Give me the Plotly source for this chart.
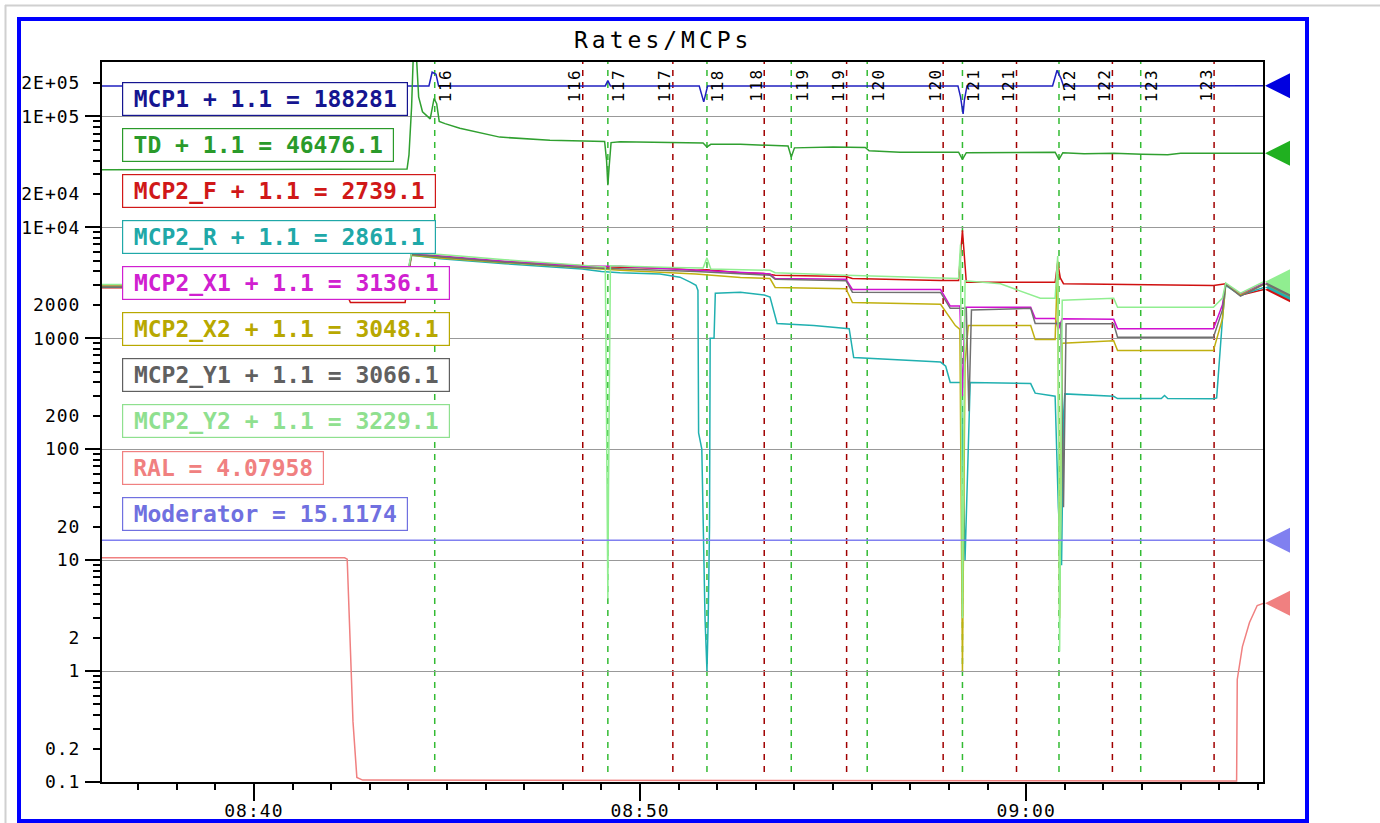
import plotly.graph_objects as go

DAY = "2010-01-01 "

# ---------------- axis data ----------------
X_START, X_END = "08:36:04", "09:06:08"
X_TICK_TIMES = ["08:40:00", "08:50:00", "09:00:00"]
X_TICK_TEXT = ["08:40", "08:50", "09:00"]

Y_RANGE_LOG = [-1, 5.49]
Y_LABEL_VALS = [0.1, 0.2, 1, 2, 10, 20, 100, 200, 1000, 2000, 1e4, 2e4, 1e5, 2e5]
Y_LABEL_TEXT = ["0.1", "0.2", "1", "2", "10", "20", "100", "200", "1000", "2000",
                "1E+04", "2E+04", "1E+05", "2E+05"]
Y_DECADES = [0.1, 1, 10, 100, 1e3, 1e4, 1e5]
Y_MINOR_MULTS = [3, 4, 5, 6, 7, 8, 9]

# ---------------- run markers ----------------
EVENT_TIMES = ["08:44:41", "08:48:31", "08:49:10", "08:50:51", "08:51:44", "08:53:13",
               "08:53:55", "08:55:21", "08:55:53", "08:57:51", "08:58:21", "08:59:45",
               "09:00:51", "09:02:14", "09:02:58", "09:04:52"]
EVENT_LABELS = ["116", "116", "117", "117", "118", "118", "119", "119",
                "120", "120", "121", "121", "122", "122", "123", "123"]
EVENT_KINDS = ["start", "end"] * 8

# ---------------- series ----------------
SERIES_NAMES = ["MCP1", "TD", "MCP2_F", "MCP2_R", "MCP2_X1", "MCP2_X2",
                "MCP2_Y1", "MCP2_Y2", "RAL", "Moderator"]
LEGEND_TEXT = ["MCP1 + 1.1 = 188281", "TD + 1.1 = 46476.1", "MCP2_F + 1.1 = 2739.1",
               "MCP2_R + 1.1 = 2861.1", "MCP2_X1 + 1.1 = 3136.1", "MCP2_X2 + 1.1 = 3048.1",
               "MCP2_Y1 + 1.1 = 3066.1", "MCP2_Y2 + 1.1 = 3229.1", "RAL = 4.07958",
               "Moderator = 15.1174"]
LINE_COLORS = ["#2020c0", "#30a030", "#d01010", "#20b0b0", "#d010d0", "#c0b010",
               "#707070", "#90ee90", "#f08080", "#8080f0"]
TEXT_COLORS = ["#151590", "#2a9a2a", "#d01818", "#20a8a8", "#d020d0", "#b8a800",
               "#606060", "#8fe08f", "#f08080", "#7070e0"]
MARKER_COLORS = ["#0000e0", "#20b020", "#d01010", "#20b0b0", "#d010d0", "#c0b010",
                 "#707070", "#90ee90", "#f08080", "#8080f0"]

MCP1 = [("08:36:04", 188000), ("08:44:32", 188000), ("08:44:37", 250000), ("08:44:43", 240000),
        ("08:44:47", 188000), ("08:49:06", 188000), ("08:49:10", 210000), ("08:49:14", 188000),
        ("08:51:32", 188000), ("08:51:39", 135000), ("08:51:45", 188000), ("08:58:14", 188000),
        ("08:58:18", 150000), ("08:58:22", 105000), ("08:58:24", 140000), ("08:58:28", 188000),
        ("09:00:41", 188000), ("09:00:48", 260000), ("09:00:54", 220000), ("09:00:58", 188000),
        ("09:06:09", 188281)]

TD = [("08:36:04", 33000), ("08:43:58", 33500), ("08:44:01", 45000), ("08:44:05", 120000),
      ("08:44:08", 400000), ("08:44:12", 400000), ("08:44:16", 150000), ("08:44:22", 110000),
      ("08:44:34", 95000), ("08:44:40", 145000), ("08:44:44", 130000), ("08:44:48", 90000),
      ("08:44:57", 86000), ("08:45:20", 78000), ("08:46:22", 65000), ("08:47:40", 61000),
      ("08:48:32", 60000), ("08:49:05", 59500), ("08:49:08", 40000), ("08:49:10", 24000),
      ("08:49:12", 35000), ("08:49:15", 58000), ("08:49:29", 59000), ("08:50:31", 58000),
      ("08:51:38", 57500), ("08:51:44", 53000), ("08:51:50", 56000), ("08:52:36", 56000),
      ("08:53:13", 55000), ("08:53:50", 54000), ("08:53:55", 43000), ("08:54:00", 52000),
      ("08:55:00", 53000), ("08:55:50", 52500), ("08:55:56", 49000), ("08:56:44", 47500),
      ("08:58:15", 47500), ("08:58:21", 41000), ("08:58:27", 47000), ("09:00:45", 47500),
      ("09:00:51", 41000), ("09:00:57", 47000), ("09:01:30", 46000), ("09:02:16", 46500),
      ("09:03:00", 45500), ("09:03:40", 45000), ("09:04:00", 46500), ("09:06:09", 46476.1)]

MCP2_F = [("08:36:04", 2850), ("08:42:20", 2850), ("08:42:30", 2100), ("08:43:55", 2100),
          ("08:44:05", 5800), ("08:44:50", 5400), ("08:46:30", 4900), ("08:48:30", 4500),
          ("08:49:00", 4400), ("08:50:50", 4250), ("08:51:27", 4100), ("08:51:44", 4150),
          ("08:52:36", 3900), ("08:53:13", 3840), ("08:53:30", 3700), ("08:55:20", 3600),
          ("08:55:30", 3450), ("08:57:47", 3320), ("08:58:15", 3320), ("08:58:21", 9400),
          ("08:58:27", 3200), ("09:00:45", 3190), ("09:00:49", 4800), ("09:00:53", 3500),
          ("09:00:58", 3100), ("09:04:51", 2990), ("09:05:05", 3050), ("09:05:10", 3100),
          ("09:05:33", 2450), ("09:06:09", 2739.1)]

MCP2_R = [("08:36:04", 2900), ("08:43:55", 2900), ("08:44:05", 5600), ("08:44:50", 5200),
          ("08:46:30", 4700), ("08:48:30", 4200), ("08:49:00", 4000), ("08:49:29", 3900),
          ("08:50:31", 3800), ("08:51:02", 3550), ("08:51:18", 3200), ("08:51:27", 3000),
          ("08:51:30", 2700), ("08:51:31", 140), ("08:51:36", 100), ("08:51:38", 20),
          ("08:51:41", 3), ("08:51:44", 1.0), ("08:51:46", 3), ("08:51:48", 20),
          ("08:51:49", 1000), ("08:51:55", 1000), ("08:51:57", 2550), ("08:52:36", 2600),
          ("08:53:13", 2450), ("08:53:22", 2350), ("08:53:33", 1360), ("08:54:30", 1300),
          ("08:55:25", 1220), ("08:55:32", 670), ("08:57:47", 610), ("08:57:55", 560),
          ("08:58:02", 400), ("08:58:19", 400), ("08:58:25", 10), ("08:58:30", 100),
          ("08:58:33", 400), ("09:00:07", 390), ("09:00:14", 320), ("09:00:45", 300),
          ("09:00:50", 30), ("09:00:55", 9), ("09:00:58", 200), ("09:01:00", 315),
          ("09:02:16", 300), ("09:02:22", 286), ("09:03:30", 286), ("09:03:35", 305),
          ("09:03:40", 286), ("09:04:51", 285), ("09:04:56", 290), ("09:05:05", 1500),
          ("09:05:10", 3000), ("09:05:33", 2450), ("09:06:09", 2861.1)]

MCP2_X1 = [("08:36:04", 3000), ("08:43:55", 3000), ("08:44:05", 5800), ("08:44:50", 5500),
           ("08:46:30", 4950), ("08:48:30", 4450), ("08:49:29", 4450), ("08:51:27", 4100),
           ("08:52:36", 3950), ("08:53:22", 3800), ("08:53:30", 3460), ("08:55:20", 3400),
           ("08:55:30", 2750), ("08:57:47", 2750), ("08:58:02", 1950), ("08:58:17", 1950),
           ("08:58:21", 300), ("08:58:25", 1900), ("09:00:07", 1900), ("09:00:14", 1510),
           ("09:00:45", 1510), ("09:00:50", 1200), ("09:00:56", 1500), ("09:02:16", 1480),
           ("09:02:22", 1220), ("09:04:51", 1220), ("09:05:05", 2000), ("09:05:10", 3100),
           ("09:05:33", 2500), ("09:06:09", 3136.1)]

MCP2_X2 = [("08:36:04", 2950), ("08:43:55", 2950), ("08:44:05", 5600), ("08:44:50", 5300),
           ("08:46:30", 4800), ("08:48:30", 4300), ("08:49:29", 4100), ("08:51:27", 3800),
           ("08:52:36", 3530), ("08:53:22", 3450), ("08:53:30", 2870), ("08:55:20", 2800),
           ("08:55:30", 2100), ("08:57:47", 2020), ("08:58:10", 1300), ("08:58:17", 1200),
           ("08:58:21", 1.0), ("08:58:25", 600), ("08:58:30", 1300), ("09:00:07", 1300),
           ("09:00:14", 975), ("09:00:45", 975), ("09:00:49", 5000), ("09:00:52", 3),
           ("09:00:56", 900), ("09:02:16", 950), ("09:02:22", 776), ("09:04:51", 776),
           ("09:05:05", 1500), ("09:05:10", 3050), ("09:05:33", 2450), ("09:06:09", 3048.1)]

MCP2_Y1 = [("08:36:04", 2900), ("08:43:55", 2900), ("08:44:05", 5700), ("08:44:50", 5400),
           ("08:46:30", 4850), ("08:48:30", 4350), ("08:51:27", 4000), ("08:53:22", 3700),
           ("08:53:30", 3400), ("08:55:20", 3300), ("08:55:30", 2600), ("08:57:47", 2590),
           ("08:58:02", 1860), ("08:58:27", 1860), ("08:58:31", 220), ("08:58:35", 1800),
           ("09:00:07", 1860), ("09:00:14", 1360), ("09:00:54", 1360), ("09:00:58", 30),
           ("09:01:02", 1350), ("09:02:16", 1350), ("09:02:22", 1020), ("09:04:51", 1020),
           ("09:05:05", 1800), ("09:05:10", 3050), ("09:05:33", 2400), ("09:06:09", 3066.1)]

MCP2_Y2 = [("08:36:04", 3050), ("08:43:55", 3050), ("08:44:05", 5900), ("08:44:50", 5700),
           ("08:46:30", 5100), ("08:48:30", 4500), ("08:49:06", 4400), ("08:49:07", 1000),
           ("08:49:09", 40), ("08:49:10", 4.5), ("08:49:11", 40), ("08:49:13", 1000),
           ("08:49:14", 4500), ("08:50:50", 4350), ("08:51:38", 4300), ("08:51:44", 5300),
           ("08:51:50", 4200), ("08:53:22", 4100), ("08:53:30", 3900), ("08:55:20", 3700),
           ("08:57:47", 3460), ("08:58:15", 3460), ("08:58:18", 7000), ("08:58:21", 3),
           ("08:58:25", 3300), ("08:59:20", 3100), ("09:00:22", 2290), ("09:00:45", 2290),
           ("09:00:49", 5500), ("09:00:52", 1.5), ("09:00:56", 2200), ("09:02:16", 2290),
           ("09:02:22", 1900), ("09:04:51", 1900), ("09:05:05", 2300), ("09:05:10", 3150),
           ("09:05:33", 2550), ("09:06:09", 3229.1)]

RAL = [("08:36:04", 10.5), ("08:42:21", 10.5), ("08:42:25", 10.2), ("08:42:27", 4.5),
       ("08:42:30", 1.5), ("08:42:34", 0.35), ("08:42:40", 0.11), ("08:42:49", 0.104),
       ("09:05:27", 0.102), ("09:05:28", 0.84), ("09:05:36", 1.66), ("09:05:47", 2.74),
       ("09:05:59", 3.9), ("09:06:09", 4.07958)]

MODERATOR = [("08:36:04", 15.1174), ("09:06:09", 15.1174)]

SERIES_POINTS = [MCP1, TD, MCP2_F, MCP2_R, MCP2_X1, MCP2_X2, MCP2_Y1, MCP2_Y2, RAL, MODERATOR]

# ---------------- layout constants ----------------
W, H = 1380, 823
PLOT_L, PLOT_R, PLOT_T, PLOT_B = 102, 1263, 62, 782
MONO = "DejaVu Sans Mono"
TRIANGLE_PATH = "M 2,0 L 27,12.5 L 27,-12.5 Z"


def px(x):
    return (x - PLOT_L) / (PLOT_R - PLOT_L)


def py(y):
    return (PLOT_B - y) / (PLOT_B - PLOT_T)


def spaced(text, ls):
    return f'<span style="letter-spacing:{ls}px">{text}</span>'


fig = go.Figure()

for name, pts, col in zip(SERIES_NAMES, SERIES_POINTS, LINE_COLORS):
    fig.add_trace(go.Scatter(
        x=[DAY + t for t, _ in pts], y=[v for _, v in pts], mode="lines",
        line=dict(color=col, width=1.5), hoverinfo="skip", showlegend=False,
        yaxis="y2" if name == "Moderator" else "y"))

# last-value triangles just outside the right edge
for name, pts, col in zip(SERIES_NAMES, SERIES_POINTS, MARKER_COLORS):
    fig.add_shape(type="path", xref="paper", xsizemode="pixel", xanchor=1,
                  yref="y", ysizemode="pixel", yanchor=pts[-1][1],
                  path=TRIANGLE_PATH, fillcolor=col, line=dict(width=0), layer="above")

# dashed run lines + rotated labels
for t, lab, kind in zip(EVENT_TIMES, EVENT_LABELS, EVENT_KINDS):
    col = "#33bb33" if kind == "start" else "#a00000"
    fig.add_shape(type="line", xref="x", yref="paper", x0=DAY + t, x1=DAY + t,
                  y0=py(772), y1=1, layer="below",
                  line=dict(color=col, width=1.5, dash="6px,6px"))
    fig.add_annotation(
        x=DAY + t, xref="x", y=1, yref="paper", yanchor="top", yshift=-5,
        xanchor="center", xshift=11 if kind == "start" else -8,
        text=spaced(lab, 1.5), textangle=-90, showarrow=False,
        font=dict(family=MONO, size=16, color="black"))

# legend boxes
for i, (txt, col) in enumerate(zip(LEGEND_TEXT, TEXT_COLORS)):
    top = 81.7 + 46.1 * i
    fig.add_annotation(
        xref="paper", yref="paper", x=px(121.7), y=py(top), xanchor="left", yanchor="top",
        text=f"<b>{txt}</b>", showarrow=False,
        font=dict(family=MONO, size=23, color=col),
        bordercolor=col, borderwidth=1.2, borderpad=0, bgcolor="white",
        width=len(txt) * 14 + 18, height=32, align="center", valign="middle")

# title
fig.add_annotation(xref="paper", yref="paper", x=px(662.5), y=py(40), xanchor="center",
                   yanchor="middle", text=spaced("Rates/MCPs", 4), showarrow=False,
                   font=dict(family=MONO, size=23, color="black"))

# frame: blue border and grey page edges
fig.add_shape(type="rect", xref="paper", yref="paper", x0=px(19), x1=px(1307),
              y0=py(821), y1=py(19), line=dict(color="#0000ff", width=4), layer="above")
fig.add_shape(type="line", xref="paper", yref="paper", x0=px(5), x1=px(1380),
              y0=py(5.5), y1=py(5.5), line=dict(color="#d0d0d0", width=2))
fig.add_shape(type="line", xref="paper", yref="paper", x0=px(5.5), x1=px(5.5),
              y0=py(823), y1=py(5), line=dict(color="#d0d0d0", width=2))

y_minor = [m * d for d in Y_DECADES[:-1] for m in Y_MINOR_MULTS]
y_tickvals = Y_LABEL_VALS + y_minor
y_ticktext = [spaced(t, 1) for t in Y_LABEL_TEXT] + [""] * len(y_minor)

fig.update_layout(
    template="none", width=W, height=H,
    margin=dict(l=PLOT_L, r=W - PLOT_R, t=PLOT_T, b=H - PLOT_B, pad=0),
    paper_bgcolor="white", plot_bgcolor="white", showlegend=False, hovermode=False,
    xaxis=dict(
        type="date", range=[DAY + X_START, DAY + X_END],
        tickmode="array", tickvals=[DAY + t for t in X_TICK_TIMES],
        ticktext=[spaced(t, 1) for t in X_TICK_TEXT],
        ticks="outside", ticklen=17, tickwidth=2, tickcolor="black",
        tickfont=dict(family=MONO, size=18, color="black"), ticklabelstandoff=-6,
        minor=dict(dtick=60000, tick0=DAY + "08:00:00", ticks="outside", ticklen=6,
                   tickwidth=1.5, tickcolor="black", showgrid=False),
        showgrid=False, zeroline=False, showline=True, linewidth=2, linecolor="black",
        mirror=True, automargin=False),
    yaxis=dict(
        type="log", range=Y_RANGE_LOG, tickmode="array", tickvals=y_tickvals,
        ticktext=y_ticktext, ticks="outside", ticklen=7, tickwidth=1.5, tickcolor="black",
        tickfont=dict(family=MONO, size=18, color="black"), ticklabelstandoff=9,
        showgrid=False, zeroline=False, showline=True, linewidth=2, linecolor="black",
        mirror=True, automargin=False),
    yaxis2=dict(
        type="log", range=Y_RANGE_LOG, overlaying="y", side="left", anchor="x",
        tickmode="array", tickvals=Y_DECADES, ticks="outside", ticklen=16, tickwidth=1.5,
        tickcolor="black", showticklabels=False, showgrid=True, gridcolor="#999999",
        gridwidth=1, zeroline=False, showline=False, automargin=False),
)

fig.write_html("out.html", config={"displayModeBar": False},
               post_script="document.body.style.margin='0';")
